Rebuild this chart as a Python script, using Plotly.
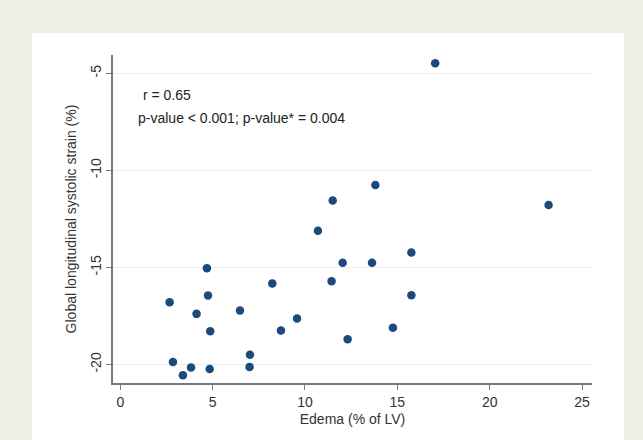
import plotly.graph_objects as go

# Data
edema = [17.05, 13.81, 11.50, 23.19,
         4.69, 8.23, 4.75, 2.67, 4.13, 6.48, 4.87, 8.70, 7.02, 2.85, 3.83, 4.84, 7.00, 3.39,
         10.70, 15.76, 12.04, 13.63, 11.44, 15.76, 9.57, 14.76, 12.31]
gls = [-4.48, -10.76, -11.55, -11.79,
       -15.04, -15.82, -16.44, -16.79, -17.39, -17.22, -18.28, -18.25, -19.50, -19.87, -20.15, -20.23, -20.12, -20.55,
       -13.11, -14.23, -14.76, -14.76, -15.71, -16.43, -17.63, -18.11, -18.70]
x_ticks = [0, 5, 10, 15, 20, 25]
y_ticks = [-5, -10, -15, -20]
annot_lines = ["r = 0.65", "p-value < 0.001; p-value* = 0.004"]

W, H = 643, 440
ml, mr, mt, mb = 113, 51, 55, 57
pw, ph = W - ml - mr, H - mt - mb

def px2paper_x(px):
    return (px - ml) / pw

def px2paper_y(py):
    return (H - mb - py) / ph

navy = "#1b4a7c"
font = "Liberation Sans, Arial, sans-serif"

fig = go.Figure()
fig.add_trace(go.Scatter(
    x=edema, y=gls, mode="markers",
    marker=dict(color=navy, size=8.5, line=dict(width=0)),
    showlegend=False, hoverinfo="x+y",
))

fig.update_layout(
    width=W, height=H,
    margin=dict(l=ml, r=mr, t=mt, b=mb, pad=0),
    paper_bgcolor="#efeee4",
    plot_bgcolor="white",
    font=dict(family=font, size=14, color="#333333"),
    shapes=[dict(type="rect", xref="paper", yref="paper",
                 x0=px2paper_x(32), x1=px2paper_x(624),
                 y0=px2paper_y(440), y1=px2paper_y(33),
                 fillcolor="white", line=dict(width=0), layer="below")],
    annotations=[
        dict(text=annot_lines[0], xref="paper", yref="paper",
             x=px2paper_x(141), y=px2paper_y(95), xanchor="left", yanchor="middle",
             showarrow=False, font=dict(size=14, color="#222222")),
        dict(text=annot_lines[1], xref="paper", yref="paper",
             x=px2paper_x(136), y=px2paper_y(118), xanchor="left", yanchor="middle",
             showarrow=False, font=dict(size=14, color="#222222")),
    ],
)

fig.update_xaxes(
    range=[-0.395, 25.54], tickvals=x_ticks, ticktext=[str(v) for v in x_ticks],
    showgrid=False, zeroline=False,
    showline=True, linecolor="#7a7a7a", linewidth=1.5,
    ticks="outside", ticklen=5, tickcolor="#7a7a7a", tickwidth=1,
    tickfont=dict(size=14, color="#333333"),
    title=dict(text="Edema (% of LV)", font=dict(size=14, color="#333333"), standoff=6),
)
fig.update_yaxes(
    range=[-20.95, -4.06], tickvals=y_ticks, ticktext=[str(v) for v in y_ticks],
    tickangle=-90,
    showgrid=True, gridcolor="#e6eef0", gridwidth=1, zeroline=False,
    showline=True, linecolor="#7a7a7a", linewidth=1.5,
    ticks="outside", ticklen=5, tickcolor="#7a7a7a", tickwidth=1,
    tickfont=dict(size=14, color="#333333"),
    title=dict(text="Global longitudinal systolic strain (%)", font=dict(size=14, color="#333333"), standoff=8),
)

fig.write_html("out.html",
               config={"displayModeBar": False},
               post_script="document.body.style.margin='0';document.body.style.overflow='hidden';")
